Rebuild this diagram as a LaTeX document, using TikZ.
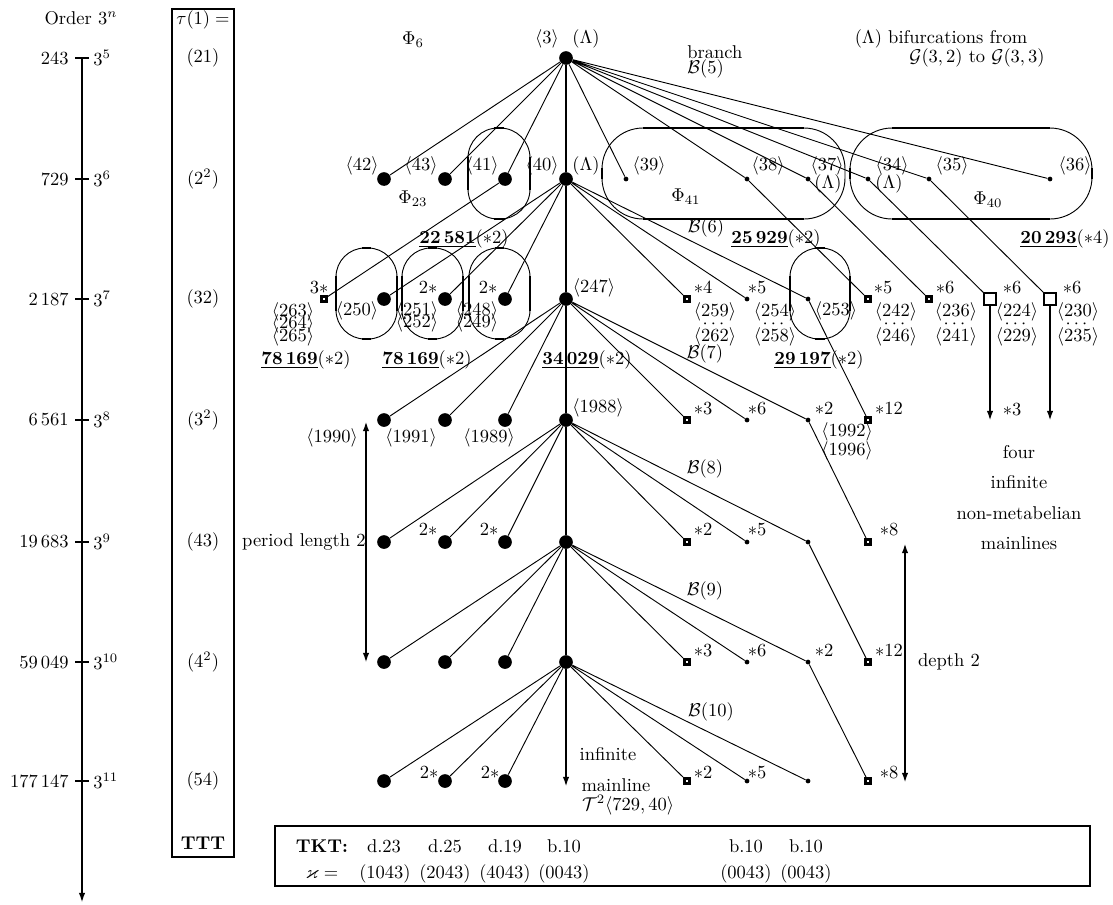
\documentclass[tikz,border=0pt]{standalone}
\usepackage{amsmath,amssymb}
\usepackage{tikz}
\usetikzlibrary{arrows.meta}

\begin{document}
\begin{tikzpicture}[x=0.019cm,y=-0.019cm,
  bigdot/.style={circle,fill,inner sep=0pt,minimum size=0.26cm},
  smalldot/.style={circle,fill,inner sep=0pt,minimum size=0.09cm},
  sq/.style={rectangle,draw,line width=1.4pt,fill=white,inner sep=0pt,minimum size=0.1cm},
  bigsq/.style={rectangle,draw,line width=1pt,fill=white,inner sep=0pt,minimum size=0.22cm},
  twig/.style={line width=0.5pt},
  mainline/.style={line width=1.1pt},
  thickarrow/.style={line width=1.2pt},
  tick/.style={line width=1.5pt},
  box/.style={line width=1.1pt},
  capsule/.style={line width=0.5pt},
  flat/.style={line width=1.3pt},
  stack/.style={align=center,inner sep=0pt},
  >={Latex[length=5.5pt,width=3.5pt]}]
\useasboundingbox (0,0) rectangle (1113,904);

% order axis
\coordinate (atop) at (82,58);
\coordinate (abot) at (82,903);
\draw[thickarrow,->] (atop) -- (abot);
\node (order) at (81,18) {Order $3^n$};
\draw[tick] (75,58) -- (89,58);
\draw[tick] (75,179) -- (89,179);
\draw[tick] (75,299) -- (89,299);
\draw[tick] (75,420) -- (89,420);
\draw[tick] (75,542) -- (89,542);
\draw[tick] (75,662) -- (89,662);
\draw[tick] (75,781) -- (89,781);
\node[anchor=east,inner sep=0pt] (o5) at (69,58) {243};
\node[anchor=east,inner sep=0pt] (o6) at (69,179) {729};
\node[anchor=east,inner sep=0pt] (o7) at (69,299) {2\,187};
\node[anchor=east,inner sep=0pt] (o8) at (69,420) {6\,561};
\node[anchor=east,inner sep=0pt] (o9) at (69,542) {19\,683};
\node[anchor=east,inner sep=0pt] (o10) at (69,662) {59\,049};
\node[anchor=east,inner sep=0pt] (o11) at (69,781) {177\,147};
\node[anchor=west,inner sep=0pt] (p5) at (93,58) {$3^{5}$};
\node[anchor=west,inner sep=0pt] (p6) at (93,179) {$3^{6}$};
\node[anchor=west,inner sep=0pt] (p7) at (93,299) {$3^{7}$};
\node[anchor=west,inner sep=0pt] (p8) at (93,420) {$3^{8}$};
\node[anchor=west,inner sep=0pt] (p9) at (93,542) {$3^{9}$};
\node[anchor=west,inner sep=0pt] (p10) at (93,662) {$3^{10}$};
\node[anchor=west,inner sep=0pt] (p11) at (93,781) {$3^{11}$};

% transfer target types
\draw[box] (172,9) rectangle (234,857);
\node (tau) at (203,20) {$\tau(1) =$};
\node (tau5) at (203,58) {$(21)$};
\node (tau6) at (203,179) {$(2^2)$};
\node (tau7) at (203,299) {$(32)$};
\node (tau8) at (203,420) {$(3^2)$};
\node (tau9) at (203,542) {$(43)$};
\node (tau10) at (203,662) {$(4^2)$};
\node (tau11) at (203,781) {$(54)$};
\node (ttt) at (203,843) {\textbf{TTT}};

% tree nodes
\node[bigdot] (r3) at (566,58) {};
\node[bigdot] (n42) at (384,179) {};
\node[bigdot] (n43) at (445,179) {};
\node[bigdot] (n41) at (505,179) {};
\node[bigdot] (n40) at (566,179) {};
\node[smalldot] (n39) at (626,179) {};
\node[smalldot] (n38) at (747,179) {};
\node[smalldot] (n37) at (808,179) {};
\node[smalldot] (n34) at (868,179) {};
\node[smalldot] (n35) at (929,179) {};
\node[smalldot] (n36) at (1050,179) {};

\node[sq] (s263) at (324,299) {};
\node[bigdot] (n250) at (384,299) {};
\node[bigdot] (n251) at (445,299) {};
\node[bigdot] (n248) at (505,299) {};
\node[bigdot] (n247) at (566,299) {};
\node[sq] (s259) at (687,299) {};
\node[smalldot] (n254) at (747,299) {};
\node[smalldot] (n253) at (808,299) {};
\node[sq] (s242) at (868,299) {};
\node[sq] (s236) at (929,299) {};
\node[bigsq] (s224) at (990,299) {};
\node[bigsq] (s230) at (1050,299) {};

\node[bigdot] (n1990) at (384,420) {};
\node[bigdot] (n1991) at (445,420) {};
\node[bigdot] (n1989) at (505,420) {};
\node[bigdot] (n1988) at (566,420) {};
\node[sq] (a8) at (687,420) {};
\node[smalldot] (b8) at (747,420) {};
\node[smalldot] (n1992) at (808,420) {};
\node[sq] (d8) at (868,420) {};

\node[bigdot] (l9a) at (384,542) {};
\node[bigdot] (l9b) at (445,542) {};
\node[bigdot] (l9c) at (505,542) {};
\node[bigdot] (m9) at (566,542) {};
\node[sq] (a9) at (687,542) {};
\node[smalldot] (b9) at (747,542) {};
\node[smalldot] (c9) at (808,542) {};
\node[sq] (d9) at (868,542) {};

\node[bigdot] (l10a) at (384,662) {};
\node[bigdot] (l10b) at (445,662) {};
\node[bigdot] (l10c) at (505,662) {};
\node[bigdot] (m10) at (566,662) {};
\node[sq] (a10) at (687,662) {};
\node[smalldot] (b10) at (747,662) {};
\node[smalldot] (c10) at (808,662) {};
\node[sq] (d10) at (868,662) {};

\node[bigdot] (l11a) at (384,781) {};
\node[bigdot] (l11b) at (445,781) {};
\node[bigdot] (l11c) at (505,781) {};
\coordinate (mend) at (566,787);
\node[sq] (a11) at (687,781) {};
\node[smalldot] (b11) at (747,781) {};
\node[smalldot] (c11) at (808,781) {};
\node[sq] (d11) at (868,781) {};

% mainline
\draw[mainline] (r3) -- (n40) -- (n247) -- (n1988) -- (m9) -- (m10);
\draw[mainline,->] (m10) -- (mend);

% branches
\draw[twig] (r3) -- (n42) (r3) -- (n43) (r3) -- (n41) (r3) -- (n39) (r3) -- (n38)
  (r3) -- (n37) (r3) -- (n34) (r3) -- (n35) (r3) -- (n36);
\draw[twig] (n41) -- (s263);
\draw[twig] (n40) -- (n250) (n40) -- (n251) (n40) -- (n248) (n40) -- (s259)
  (n40) -- (n254) (n40) -- (n253);
\draw[twig] (n38) -- (s242) (n37) -- (s236) (n34) -- (s224) (n35) -- (s230);
\draw[twig] (n247) -- (n1990) (n247) -- (n1991) (n247) -- (n1989) (n247) -- (a8)
  (n247) -- (b8) (n247) -- (n1992) (n253) -- (d8);
\draw[twig] (n1988) -- (l9a) (n1988) -- (l9b) (n1988) -- (l9c) (n1988) -- (a9)
  (n1988) -- (b9) (n1988) -- (c9) (n1992) -- (d9);
\draw[twig] (m9) -- (l10a) (m9) -- (l10b) (m9) -- (l10c) (m9) -- (a10)
  (m9) -- (b10) (m9) -- (c10) (c9) -- (d10);
\draw[twig] (m10) -- (l11a) (m10) -- (l11b) (m10) -- (l11c) (m10) -- (a11)
  (m10) -- (b11) (m10) -- (c11) (c10) -- (d11);

% four non-metabelian mainlines
\coordinate (e224) at (990,421);
\coordinate (e230) at (1050,421);
\draw[thickarrow,->] (s224) -- (e224);
\draw[thickarrow,->] (s230) -- (e230);

% capsules
\draw[capsule,rounded corners=0.57cm] (468,128) rectangle (530,219);
\draw[flat] (468,157) -- (468,190) (530,157) -- (530,190) (494,128) -- (504,128) (494,219) -- (504,219);
\draw[capsule,rounded corners=0.78cm] (602,128) rectangle (845,219);
\draw[flat] (643,128) -- (804,128) (643,219) -- (804,219) (602,168) -- (602,179);
\draw[capsule,rounded corners=0.8cm] (850,128) rectangle (1092,219);
\draw[flat] (892,128) -- (1050,128) (892,219) -- (1050,219) (850,168) -- (850,179) (1092,168) -- (1092,179);
\draw[capsule,rounded corners=0.55cm] (336,248) rectangle (397,339);
\draw[flat] (336,276) -- (336,311) (397,276) -- (397,311) (362,248) -- (371,248) (362,339) -- (371,339);
\draw[capsule,rounded corners=0.55cm] (402,248) rectangle (463,339);
\draw[flat] (402,276) -- (402,311) (463,276) -- (463,311) (428,248) -- (437,248) (428,339) -- (437,339);
\draw[capsule,rounded corners=0.55cm] (469,248) rectangle (530,339);
\draw[flat] (469,276) -- (469,311) (530,276) -- (530,311) (495,248) -- (504,248) (495,339) -- (504,339);
\draw[capsule,rounded corners=0.55cm] (790,248) rectangle (850,339);
\draw[flat] (790,276) -- (790,311) (850,276) -- (850,311) (815,248) -- (825,248) (815,339) -- (825,339);

% labels, order 243
\node (phi6) at (413,40) {$\Phi_6$};
\node (t3) at (547,39) {$\langle 3\rangle$};
\node (lam3) at (586,39) {$(\Lambda)$};
\node[anchor=west,inner sep=0pt] (branch) at (687,52) {branch};
\node[anchor=west,inner sep=0pt] (b5) at (687,69) {$\mathcal{B}(5)$};
\node (bif1) at (941,39) {$(\Lambda)$ bifurcations from};
\node (bif2) at (977,58) {$\mathcal{G}(3,2)$ to $\mathcal{G}(3,3)$};

% labels, order 729
\node (t42) at (362,166) {$\langle 42\rangle$};
\node (t43) at (421,166) {$\langle 43\rangle$};
\node (t41) at (482,166) {$\langle 41\rangle$};
\node (t40) at (542,166) {$\langle 40\rangle$};
\node (lam40) at (586,166) {$(\Lambda)$};
\node (t39) at (649,166) {$\langle 39\rangle$};
\node (t38) at (768,166) {$\langle 38\rangle$};
\node (t37) at (827,166) {$\langle 37\rangle$};
\node (lam37) at (828,184) {$(\Lambda)$};
\node (t34) at (892,166) {$\langle 34\rangle$};
\node (lam34) at (889,184) {$(\Lambda)$};
\node (t35) at (952,166) {$\langle 35\rangle$};
\node (t36) at (1075,166) {$\langle 36\rangle$};
\node (phi23) at (413,199) {$\Phi_{23}$};
\node (phi41) at (686,197) {$\Phi_{41}$};
\node (phi40) at (988,200) {$\Phi_{40}$};
\node (b6) at (706,228) {$\mathcal{B}(6)$};
\node (f22581) at (464,239) {\underline{\textbf{22\,581}}$(\ast 2)$};
\node (f25929) at (776,239) {\underline{\textbf{25\,929}}$(\ast 2)$};
\node (f20293) at (1065,239) {\underline{\textbf{20\,293}}$(\ast 4)$};

% labels, order 2187
\node (st263) at (319,288) {$3{\ast}$};
\node[stack] (t263) at (293,324) {$\langle 263\rangle$\\[-5.3pt]$\langle 264\rangle$\\[-5.3pt]$\langle 265\rangle$};
\node (t250) at (357,311) {$\langle 250\rangle$};
\node (st251) at (428,288) {$2{\ast}$};
\node[stack] (t251) at (417,317) {$\langle 251\rangle$\\[-5.3pt]$\langle 252\rangle$};
\node (st248) at (488,288) {$2{\ast}$};
\node[stack] (t248) at (477,317) {$\langle 248\rangle$\\[-5.3pt]$\langle 249\rangle$};
\node (t247) at (594,288) {$\langle 247\rangle$};
\node (st259) at (703,288) {${\ast}4$};
\node[stack] (t259) at (715,324) {$\langle 259\rangle$\\[-5.3pt]$\cdots$\\[-5.3pt]$\langle 262\rangle$};
\node (st254) at (757,288) {${\ast}5$};
\node[stack] (t254) at (775,324) {$\langle 254\rangle$\\[-5.3pt]$\cdots$\\[-5.3pt]$\langle 258\rangle$};
\node (t253) at (836,311) {$\langle 253\rangle$};
\node (st242) at (883,288) {${\ast}5$};
\node[stack] (t242) at (896,324) {$\langle 242\rangle$\\[-5.3pt]$\cdots$\\[-5.3pt]$\langle 246\rangle$};
\node (st236) at (945,288) {${\ast}6$};
\node[stack] (t236) at (956,324) {$\langle 236\rangle$\\[-5.3pt]$\cdots$\\[-5.3pt]$\langle 241\rangle$};
\node (st224) at (1012,288) {${\ast}6$};
\node[stack] (t224) at (1017,324) {$\langle 224\rangle$\\[-5.3pt]$\cdots$\\[-5.3pt]$\langle 229\rangle$};
\node (st230) at (1072,288) {${\ast}6$};
\node[stack] (t230) at (1078,324) {$\langle 230\rangle$\\[-5.3pt]$\cdots$\\[-5.3pt]$\langle 235\rangle$};
\node (f78169a) at (306,360) {\underline{\textbf{78\,169}}$(\ast 2)$};
\node (f78169b) at (427,360) {\underline{\textbf{78\,169}}$(\ast 2)$};
\node (f34029) at (587,360) {\underline{\textbf{34\,029}}$(\ast 2)$};
\node (f29197) at (819,360) {\underline{\textbf{29\,197}}$(\ast 2)$};
\node (b7) at (705,354) {$\mathcal{B}(7)$};

% labels, order 6561
\node (t1990) at (332,438) {$\langle 1990\rangle$};
\node (t1991) at (411,438) {$\langle 1991\rangle$};
\node (t1989) at (489,438) {$\langle 1989\rangle$};
\node (t1988) at (598,408) {$\langle 1988\rangle$};
\node (sta8) at (703,409) {${\ast}3$};
\node (stb8) at (757,409) {${\ast}6$};
\node (stc8) at (824,409) {${\ast}2$};
\node[stack] (t1992) at (847,441) {$\langle 1992\rangle$\\[-1.8pt]$\langle 1996\rangle$};
\node (std8) at (889,409) {${\ast}12$};
\node (st224m) at (1012,410) {${\ast}3$};
\node (four) at (1019,452) {four};
\node (inf) at (1019,482) {infinite};
\node (nonmeta) at (1019,513) {non-metabelian};
\node (mainl) at (1019,543) {mainlines};
\node (b8l) at (705,469) {$\mathcal{B}(8)$};

% labels, order 19683
\node (stl9b) at (428,530) {$2{\ast}$};
\node (stl9c) at (489,530) {$2{\ast}$};
\node (sta9) at (703,530) {${\ast}2$};
\node (stb9) at (757,530) {${\ast}5$};
\node (std9) at (889,530) {${\ast}8$};
\node[anchor=east,inner sep=0pt] (period) at (366,542) {period length 2};
\node (b9l) at (705,591) {$\mathcal{B}(9)$};

% labels, order 59049
\node (sta10) at (703,651) {${\ast}3$};
\node (stb10) at (757,651) {${\ast}6$};
\node (stc10) at (824,651) {${\ast}2$};
\node (std10) at (889,651) {${\ast}12$};
\node (depth) at (949,662) {depth 2};
\node (b10l) at (711,712) {$\mathcal{B}(10)$};

% labels, order 177147
\node (stl11b) at (429,773) {$2{\ast}$};
\node (stl11c) at (490,773) {$2{\ast}$};
\node (sta11) at (703,773) {${\ast}2$};
\node (stb11) at (757,773) {${\ast}5$};
\node (std11) at (889,773) {${\ast}8$};
\node (infm) at (608,754) {infinite};
\node (mainm) at (616,785) {mainline};
\node (tree) at (628,805) {$\mathcal{T}^2\langle 729,40\rangle$};

% period and depth
\coordinate (pertop) at (366,421);
\coordinate (perbot) at (366,663);
\draw[thickarrow,<->] (pertop) -- (perbot);
\coordinate (deptop) at (905,543);
\coordinate (depbot) at (905,783);
\draw[thickarrow,<->] (deptop) -- (depbot);

% TKT and kappa
\draw[box] (275,826) rectangle (1090,886);
\node (tkt) at (322,846) {\textbf{TKT:}};
\node (k23) at (384,846) {d.23};
\node (k25) at (445,846) {d.25};
\node (k19) at (505,846) {d.19};
\node (k10a) at (564,846) {b.10};
\node (k10b) at (746,846) {b.10};
\node (k10c) at (806,846) {b.10};
\node (kappa) at (322,874) {$\varkappa =$};
\node (c1043) at (385,874) {$(1043)$};
\node (c2043) at (445,874) {$(2043)$};
\node (c4043) at (505,874) {$(4043)$};
\node (c0043a) at (564,874) {$(0043)$};
\node (c0043b) at (746,874) {$(0043)$};
\node (c0043c) at (806,874) {$(0043)$};
\end{tikzpicture}
\end{document}
